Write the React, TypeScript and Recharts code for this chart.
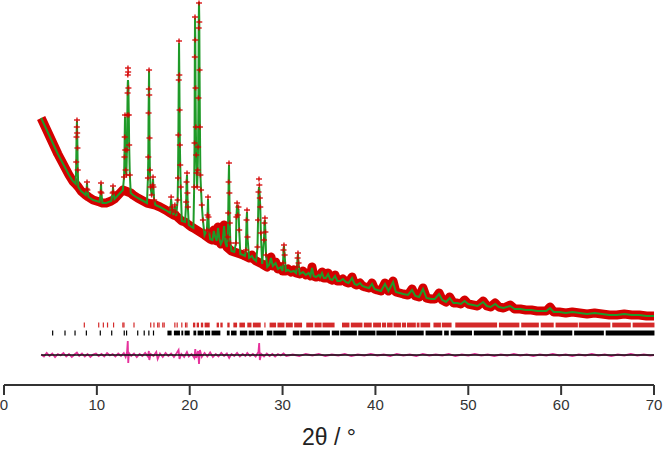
import React from 'react';
import { ComposedChart, Line, Scatter, XAxis, YAxis, ReferenceArea } from 'recharts';

// 2θ tick labels
const xTicks = [0, 10, 20, 30, 40, 50, 60, 70];

// Observed background/low-intensity profile: [2θ, Iobs, Icalc] (arbitrary units)
const background: number[][] = [
  [4.0, 237, 237], [4.3, 231, 231], [4.6, 225, 225], [5.0, 217, 217], [5.4, 209, 209], [5.8, 201, 201],
  [6.2, 194, 194], [6.6, 187, 187], [7.0, 180, 180], [7.4, 174, 174], [7.72, 171, 171],
  [8.0, 168, 168], [8.3, 164, 164], [8.8, 160, 160], [9.1, 158, 158], [9.6, 155, 155], [10.3, 153, 153],
  [10.6, 152, 152], [11.0, 152, 152], [11.55, 154, 154], [11.9, 156, 156], [12.4, 161, 161], [12.8, 165, 165],
  [13.65, 162, 162], [13.9, 160, 160], [14.4, 157, 157], [15.0, 154, 154], [15.4, 152, 152],
  [16.3, 150, 150], [16.8, 148, 148], [17.4, 145, 145], [17.9, 142, 142], [18.25, 140, 140], [18.55, 139, 139],
  [19.15, 134, 134], [19.5, 133, 133], [19.9, 130, 130], [20.2, 128, 128], [20.4, 127, 127],
  [21.6, 120, 120], [22.2, 116, 116], [22.45, 115, 115], [22.6, 125, 124], [22.75, 118, 118], [22.9, 114, 114],
  [23.05, 128, 127], [23.2, 116, 116], [23.35, 111, 111], [23.55, 115, 115], [23.7, 130, 129], [23.85, 112, 112],
  [24.0, 108, 108], [24.5, 104, 104], [24.8, 103, 103], [25.45, 101, 101], [25.75, 100, 100], [25.95, 99, 99],
  [26.4, 97, 97], [26.7, 100, 99], [26.9, 96, 96], [27.15, 94, 94], [27.8, 91, 91],
  [28.35, 88, 88], [28.55, 90, 90], [28.75, 98, 97], [28.95, 89, 89], [29.25, 93, 92], [29.5, 86, 86],
  [29.8, 88, 88], [30.0, 84, 84], [30.35, 84, 84], [30.6, 86, 85], [30.9, 83, 83], [31.2, 85, 84], [31.45, 82, 82],
  [31.85, 81, 81], [32.2, 84, 83], [32.5, 80, 80], [32.8, 82, 82], [33.0, 79, 79], [33.17, 88, 87], [33.35, 79, 79],
  [33.6, 78, 78], [33.9, 80, 80], [34.05, 78, 78], [34.25, 83, 82], [34.45, 77, 77], [34.65, 77, 77], [34.9, 82, 81],
  [35.1, 76, 76], [35.35, 75, 75], [35.65, 80, 79], [35.9, 74, 74], [36.2, 74, 74], [36.5, 76, 76], [36.8, 73, 73],
  [37.1, 72, 72], [37.48, 78, 77], [37.75, 71, 71], [38.0, 70, 70], [38.34, 72, 72], [38.6, 69, 69], [38.9, 68, 68],
  [39.3, 67, 67], [39.63, 72, 71], [39.9, 66, 66], [40.2, 65, 65], [40.6, 64, 64], [41.03, 72, 71], [41.4, 64, 64],
  [41.9, 74, 73], [42.2, 63, 63], [42.6, 62, 62], [43.0, 61, 61], [43.5, 60, 60], [43.94, 66, 65], [44.3, 59, 59],
  [44.7, 58, 58], [45.12, 67, 66], [45.5, 57, 57], [46.0, 56, 56], [46.4, 56, 56], [46.85, 62, 61], [47.2, 55, 55],
  [47.6, 53, 53], [48.0, 58, 57], [48.4, 52, 52], [48.8, 52, 52], [49.2, 51, 51], [49.6, 55, 54], [50.0, 51, 51],
  [50.5, 50, 50], [51.0, 49, 49], [51.6, 54, 53], [52.0, 49, 49], [52.4, 48, 48], [52.9, 52, 51], [53.3, 48, 48],
  [53.8, 47, 47], [54.5, 50, 49], [55.0, 46, 46], [55.6, 46, 46], [56.2, 45, 45], [56.8, 45, 45], [57.4, 44, 44],
  [58.0, 44, 44], [58.4, 44, 44], [58.8, 48, 47], [59.2, 43, 43], [59.8, 43, 43], [60.5, 42, 42], [61.2, 43, 43],
  [62.0, 42, 42], [62.8, 41, 41], [63.6, 42, 42], [64.4, 41, 41], [65.2, 40, 40], [66.0, 40, 40], [66.8, 41, 41],
  [67.6, 40, 40], [68.4, 40, 40], [69.2, 39, 39], [70.0, 39, 39],
];

// Bragg peak points: [2θ, Iobs, Icalc]
const peaks: number[][] = [
  [7.78, 193, 193], [7.81, 218, 218], [7.84, 228, 229], [7.86, 235, 234], [7.88, 222, 224], [7.91, 207, 207], [7.94, 185, 186],
  [8.9, 166, 166], [8.94, 173, 172], [8.98, 165, 165],
  [10.41, 163, 163], [10.45, 172, 171], [10.49, 162, 162],
  [11.7, 162, 162], [11.74, 169, 168], [11.78, 163, 163],
  [12.93, 178, 178], [12.97, 198, 198], [13.0, 218, 220], [13.03, 240, 238], [13.06, 205, 208], [13.1, 185, 186],
  [13.18, 180, 180], [13.24, 205, 205], [13.28, 240, 238], [13.31, 262, 262], [13.33, 280, 272], [13.35, 287, 275],
  [13.37, 283, 273], [13.4, 267, 265], [13.44, 240, 240], [13.48, 210, 210], [13.55, 180, 180],
  [15.5, 177, 177], [15.54, 198, 198], [15.57, 242, 242], [15.6, 266, 266], [15.62, 285, 284], [15.64, 260, 260],
  [15.67, 217, 217], [15.71, 185, 185], [15.78, 168, 168], [15.9, 160, 160], [16.01, 170, 170], [16.05, 178, 176],
  [16.09, 168, 168], [16.17, 155, 155],
  [18.0, 158, 156], [18.08, 148, 148], [18.15, 145, 145], [18.4, 150, 149], [18.47, 143, 143],
  [18.7, 155, 155], [18.74, 177, 177], [18.78, 220, 220], [18.82, 275, 276], [18.85, 314, 312], [18.88, 280, 282],
  [18.91, 245, 245], [18.94, 210, 210], [18.98, 190, 190], [19.03, 168, 168],
  [19.62, 153, 153], [19.66, 173, 173], [19.71, 182, 180], [19.75, 162, 162], [19.8, 148, 148],
  [20.48, 168, 168], [20.52, 212, 212], [20.55, 298, 298], [20.57, 338, 337], [20.6, 315, 318], [20.63, 267, 267],
  [20.66, 228, 228], [20.7, 200, 200], [20.75, 182, 182], [20.8, 168, 168], [20.86, 185, 185], [20.9, 208, 208],
  [20.94, 257, 257], [20.97, 327, 330], [21.0, 352, 353], [21.03, 333, 335], [21.06, 285, 285], [21.1, 228, 228],
  [21.15, 180, 180], [21.22, 165, 165], [21.3, 150, 150], [21.42, 135, 135],
  [21.85, 125, 125], [21.92, 140, 140], [21.97, 158, 156], [22.02, 138, 138], [22.08, 124, 124],
  [24.1, 118, 118], [24.15, 142, 142], [24.19, 173, 173], [24.23, 192, 190], [24.27, 162, 162], [24.31, 132, 132], [24.38, 112, 112],
  [24.98, 112, 112], [25.03, 138, 138], [25.1, 152, 150], [25.17, 140, 140], [25.25, 148, 146], [25.33, 125, 125],
  [26.05, 105, 105], [26.12, 135, 135], [26.17, 145, 143], [26.22, 118, 118],
  [27.3, 108, 108], [27.36, 135, 135], [27.41, 163, 160], [27.46, 176, 168], [27.5, 170, 166], [27.55, 157, 157],
  [27.6, 148, 148], [27.66, 122, 122],
  [28.0, 115, 115], [28.05, 132, 132], [28.1, 137, 135], [28.15, 123, 123], [28.22, 100, 100],
  [30.05, 92, 92], [30.1, 105, 105], [30.15, 110, 109], [30.22, 100, 100],
  [31.55, 88, 88], [31.62, 97, 97], [31.66, 102, 101], [31.72, 92, 92],
];

// Reflection markers, phase 1 (red) and phase 2 (black): single ticks and unresolved blocks (2θ)
const redTicks = [8.65, 10.2, 10.7, 11.15, 11.8, 12.8, 12.92, 14.0, 15.8, 16.15, 16.55, 16.7, 17.1, 17.25, 18.4, 18.65, 19.15, 19.55, 19.7, 28.1];
const redBlocks: number[][] = [
  [20.35, 20.6], [20.75, 21.0], [21.2, 21.45], [21.6, 22.15], [22.9, 23.15], [23.3, 23.55], [24.05, 24.3],
  [24.7, 25.1], [25.35, 25.95], [26.2, 26.65], [26.8, 27.65], [28.6, 29.3], [29.45, 30.2], [30.35, 31.1],
  [31.25, 32.1], [32.55, 33.3], [33.45, 34.2], [34.3, 35.6], [36.4, 37.2], [37.35, 38.6], [38.75, 39.6],
  [39.75, 40.6], [40.7, 41.15], [41.25, 41.85], [41.95, 42.75], [42.85, 43.3], [43.4, 44.35], [44.45, 44.75],
  [44.85, 45.9], [46.25, 47.05], [47.15, 48.2], [48.6, 53.1], [53.3, 55.5], [55.7, 57.6], [57.8, 59.2],
  [59.4, 61.8], [61.9, 65.3], [65.5, 67.5], [67.7, 70.05],
];
const blackTicks = [5.24, 6.57, 7.65, 8.87, 10.37, 11.6, 12.95, 13.2, 14.4, 15.1, 15.6, 16.1];
const blackBlocks: number[][] = [
  [17.6, 18.05], [18.3, 18.95], [19.1, 19.3], [19.45, 20.0], [20.4, 20.7], [20.85, 21.5], [21.65, 22.2],
  [22.35, 23.3], [24.0, 24.3], [24.45, 25.05], [25.4, 26.2], [26.35, 27.0], [27.1, 27.9], [28.3, 28.9],
  [29.0, 30.4], [31.1, 31.8], [31.9, 33.0], [33.1, 35.1], [35.3, 36.1], [36.2, 38.0], [38.15, 40.0],
  [40.1, 42.2], [42.3, 45.2], [45.4, 47.2], [47.4, 47.9], [48.1, 50.4], [50.6, 53.5], [53.7, 54.75],
  [54.95, 56.2], [56.4, 57.6], [57.8, 61.2], [61.4, 64.6], [64.8, 70.05],
];

// Difference curve Iobs - Icalc: [2θ, ΔI]
const difference: number[][] = [
  [4.0, 0.5], [4.3, -1.5], [4.6, 2], [4.9, -1], [5.2, 1.5], [5.5, -2], [5.8, 1], [6.1, -0.5], [6.4, 2], [6.7, -1.5],
  [7.0, 1], [7.3, -2], [7.6, 0.5], [7.85, 2.5], [8.1, -1], [8.4, 1.5], [8.7, -1.5], [9.0, 1], [9.3, -2], [9.6, 0.5],
  [9.9, 1.5], [10.2, -1], [10.5, 1], [10.8, -1.5], [11.1, 2], [11.4, -0.5], [11.7, 1], [12.0, -1.5], [12.3, 1.5],
  [12.6, -1], [12.9, 2], [13.1, -2], [13.25, 3], [13.33, 14], [13.38, -8], [13.45, 2], [13.7, -1], [14.0, 1.5],
  [14.3, -2], [14.6, 1], [14.9, -1], [15.2, 2], [15.5, -1.5], [15.6, 4], [15.65, -5], [15.8, 1], [16.1, -1],
  [16.4, 3], [16.55, -4], [16.8, 1.5], [17.1, -2], [17.4, 2], [17.7, -1], [18.0, 1.5], [18.3, -2], [18.6, 2],
  [18.8, 5], [18.9, -4], [19.1, 1], [19.4, -2], [19.7, 3], [19.9, -1.5], [20.2, 1], [20.5, -3], [20.6, 6],
  [20.7, -3], [20.9, 4], [21.0, -9], [21.1, 5], [21.3, -2], [21.6, 2], [21.9, -1.5], [22.2, 2.5], [22.5, -2],
  [22.8, 1], [23.1, -1.5], [23.4, 2], [23.7, -1], [24.0, 1.5], [24.25, -3], [24.5, 1], [24.8, -1], [25.1, 2],
  [25.4, -1.5], [25.7, 1], [26.0, -1], [26.2, 2], [26.5, -1], [26.8, 1], [27.1, -1.5], [27.4, 3], [27.48, 12],
  [27.55, -5], [27.7, 1], [28.0, -1.5], [28.3, 1.5], [28.6, -1], [28.9, 1], [29.2, -1.5], [29.5, 1], [29.8, -0.5],
  [30.1, 1.5], [30.4, -1], [31.1, 0.5], [31.8, -1], [32.5, 1], [33.2, -0.5], [33.9, 1], [34.6, -1], [35.3, 0.5],
  [36.0, -0.5], [36.7, 1], [37.4, -1], [38.1, 0.5], [38.8, -0.5], [39.5, 1], [40.2, -0.5], [40.9, 0.5], [41.6, -1],
  [42.3, 1], [43.0, -0.5], [43.7, 0.5], [44.4, -1], [45.1, 1], [45.8, -0.5], [46.5, 0.5], [47.2, -0.5], [47.9, 1],
  [48.6, -1], [49.3, 0.5], [50.0, -0.5], [50.7, 1], [51.4, -0.5], [52.1, 0.5], [52.8, -1], [53.5, 0.5], [54.2, -0.5],
  [54.9, 1], [55.6, -0.5], [56.3, 0.5], [57.0, -1], [57.7, 0.5], [58.4, -0.5], [59.1, 1], [59.8, -0.5], [60.5, 0.5],
  [61.2, -1], [61.9, 0.5], [62.6, -0.5], [63.3, 1], [64.0, -0.5], [64.7, 0.5], [65.4, -1], [66.1, 0.5], [66.8, -0.5],
  [67.5, 1], [68.2, -0.5], [68.9, 0.5], [69.6, -0.5], [70.0, 0],
];

// vertical placement of marker rows (in intensity units)
const RED_ROW = 30;
const BLACK_ROW = 22;

const RED = '#d40000';
const GREEN = '#1f9a28';

const profile = [...background, ...peaks].sort((a, b) => a[0] - b[0]);
const bandData = background.map(([x, o]) => ({ x, y: o }));
const calcData = profile.map(([x, , c]) => ({ x, y: c }));
const crossData = peaks.map(([x, o]) => ({ x, y: o }));
const diffData = difference.map(([x, d]) => ({ x, y: d }));
const zeroData = [
  { x: difference[0][0], y: 0 },
  { x: difference[difference.length - 1][0], y: 0 },
];
const redTickData = redTicks.map((x) => ({ x, y: RED_ROW }));
const blackTickData = blackTicks.map((x) => ({ x, y: BLACK_ROW }));

const CrossShape = (p: any) => {
  const { cx, cy } = p;
  if (cx == null || cy == null) return null;
  return (
    <g>
      <line x1={cx - 3} x2={cx + 3} y1={cy} y2={cy} stroke={RED} strokeOpacity={0.85} strokeWidth={1.5} />
      <line x1={cx} x2={cx} y1={cy - 2.5} y2={cy + 2.5} stroke={RED} strokeOpacity={0.85} strokeWidth={1.5} />
    </g>
  );
};

const makeTick = (color: string) => (p: any) => {
  const { cx, cy } = p;
  if (cx == null || cy == null) return null;
  return <line x1={cx} x2={cx} y1={cy - 2.5} y2={cy + 2.5} stroke={color} strokeWidth={1.2} />;
};
const RedTick = makeTick('#d42a2a');
const BlackTick = makeTick('#000');

export default function App() {
  return (
    <div style={{ position: 'absolute', left: 0, top: 0, background: '#fff' }}>
      <ComposedChart
        width={666}
        height={452}
        margin={{ top: 0, right: 12, bottom: 0, left: 4 }}
        style={{ fontFamily: '"Liberation Sans", Arial, sans-serif' }}
      >
        <XAxis
          type="number"
          dataKey="x"
          domain={[0, 70]}
          ticks={xTicks}
          allowDataOverflow
          height={67}
          axisLine={{ stroke: '#333', strokeWidth: 2 }}
          tickLine={{ stroke: '#333', strokeWidth: 2 }}
          tickSize={10}
          tickMargin={4}
          tick={{ fontSize: 15, fill: '#333' }}
          label={{ value: '2θ / °', position: 'insideBottom', offset: 7, fontSize: 23, fill: '#222' }}
        />
        <YAxis type="number" dataKey="y" domain={[-30, 355]} hide allowDataOverflow />
        {redBlocks.map(([a, b], i) => (
          <ReferenceArea key={'r' + i} x1={a} x2={b} y1={RED_ROW - 2.4} y2={RED_ROW + 2.4} fill="#d42a2a" fillOpacity={1} stroke="none" ifOverflow="visible" />
        ))}
        {blackBlocks.map(([a, b], i) => (
          <ReferenceArea key={'b' + i} x1={a} x2={b} y1={BLACK_ROW - 2.4} y2={BLACK_ROW + 2.4} fill="#000" fillOpacity={1} stroke="none" ifOverflow="visible" />
        ))}
        <Scatter data={redTickData} dataKey="y" shape={RedTick} isAnimationActive={false} />
        <Scatter data={blackTickData} dataKey="y" shape={BlackTick} isAnimationActive={false} />
        <Line data={bandData} dataKey="y" type="linear" stroke={RED} strokeWidth={9} dot={false} activeDot={false} isAnimationActive={false} strokeLinejoin="round" />
        <Line data={calcData} dataKey="y" type="linear" stroke={GREEN} strokeWidth={2} dot={false} activeDot={false} isAnimationActive={false} />
        <Scatter data={crossData} dataKey="y" shape={CrossShape} isAnimationActive={false} />
        <Line data={diffData} dataKey="y" type="linear" stroke="#e6329c" strokeWidth={1.8} dot={false} activeDot={false} isAnimationActive={false} />
        <Line data={zeroData} dataKey="y" type="linear" stroke="#111" strokeWidth={1.6} dot={false} activeDot={false} isAnimationActive={false} />
      </ComposedChart>
    </div>
  );
}
